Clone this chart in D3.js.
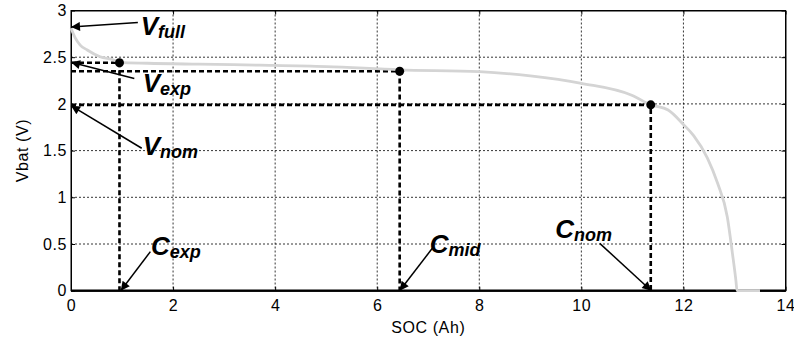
<!DOCTYPE html>
<html>
<head>
<meta charset="utf-8">
<script src="https://cdn.jsdelivr.net/npm/d3@7"></script>
<style>
  body { margin: 0; background: #fff; }
  svg { display: block; font-family: Arial, "Liberation Sans", sans-serif; }
</style>
</head>
<body>
<svg id="chart" width="794" height="345"></svg>
<script>
// discharge curve
const soc  = [0, 0.08, 0.18, 0.31, 0.57, 0.84, 0.95, 1.5, 2.5, 3.7, 5.0, 6.44, 8.0, 9.0, 10.0, 11.0, 11.36, 11.7, 12.0, 12.2, 12.47, 12.67, 12.86, 12.96, 13.03, 13.05, 13.5];
const vbat = [2.81, 2.71, 2.63, 2.58, 2.505, 2.47, 2.445, 2.435, 2.425, 2.415, 2.40, 2.365, 2.345, 2.30, 2.22, 2.09, 1.99, 1.935, 1.78, 1.66, 1.42, 1.15, 0.79, 0.40, 0.10, 0, 0];

// characteristic points (exp, mid, nom)
const pointSoc  = [0.95, 6.44, 11.36];
const pointVbat = [2.44, 2.35, 1.99];

const xTicks = [0, 2, 4, 6, 8, 10, 12, 14];
const yTicks = [0, 0.5, 1, 1.5, 2, 2.5, 3];

// labels: main letter, subscript, text anchor, arrow tail -> arrow head (data units)
const labels = [
  { main: 'V', sub: 'full', tx: 1.366, ty: 2.738, x1: 1.31, y1: 2.871, x2: 0.0, y2: 2.823 },
  { main: 'V', sub: 'exp',  tx: 1.405, ty: 2.124, x1: 1.24, y1: 2.272, x2: 0.0, y2: 2.445 },
  { main: 'V', sub: 'nom',  tx: 1.405, ty: 1.453, x1: 1.386, y1: 1.525, x2: 0.0, y2: 1.981 },
  { main: 'C', sub: 'exp',  tx: 1.569, ty: 0.385, x1: 1.555, y1: 0.418, x2: 0.975, y2: 0.0 },
  { main: 'C', sub: 'mid',  tx: 7.03,  ty: 0.40,  x1: 7.08, y1: 0.454, x2: 6.44, y2: 0.0 },
  { main: 'C', sub: 'nom',  tx: 9.49,  ty: 0.561, x1: 10.36, y1: 0.507, x2: 11.37, y2: 0.0 }
];

const margin = { top: 10.5, right: 8.5, bottom: 54.3, left: 71 };
const W = 794, H = 345;
const w = W - margin.left - margin.right;
const h = H - margin.top - margin.bottom;

const svg = d3.select('#chart');

svg.append('defs').append('marker')
  .attr('id', 'arrow')
  .attr('viewBox', '0 0 10 10')
  .attr('refX', 10).attr('refY', 5)
  .attr('markerWidth', 12).attr('markerHeight', 9)
  .attr('markerUnits', 'userSpaceOnUse')
  .attr('orient', 'auto')
  .append('path')
  .attr('d', 'M0,0L10,5L0,10z')
  .attr('fill', '#000');

const g = svg.append('g').attr('transform', `translate(${margin.left},${margin.top})`);

const x = d3.scaleLinear().domain([0, 14]).range([0, w]);
const y = d3.scaleLinear().domain([0, 3]).range([h, 0]);

// grid
g.append('g').selectAll('line').data(xTicks.slice(1, -1)).enter().append('line')
  .attr('x1', d => x(d)).attr('x2', d => x(d))
  .attr('y1', 0).attr('y2', h)
  .attr('stroke', '#000').attr('stroke-width', 0.8).attr('stroke-dasharray', '2,2');
g.append('g').selectAll('line').data(yTicks.slice(1, -1)).enter().append('line')
  .attr('y1', d => y(d)).attr('y2', d => y(d))
  .attr('x1', 0).attr('x2', w)
  .attr('stroke', '#000').attr('stroke-width', 0.8).attr('stroke-dasharray', '2,2');

// axes (MATLAB-style, ticks inside)
const xAxis = g.append('g').attr('transform', `translate(0,${h})`)
  .call(d3.axisBottom(x).tickValues(xTicks).tickSizeInner(-4).tickSizeOuter(0).tickPadding(9));
const yAxis = g.append('g')
  .call(d3.axisLeft(y).tickValues(yTicks).tickFormat(d3.format('')).tickSizeInner(-4).tickSizeOuter(0).tickPadding(4));
g.append('g').call(d3.axisTop(x).tickValues(xTicks).tickSizeInner(-4).tickSizeOuter(0).tickFormat(''));
g.append('g').attr('transform', `translate(${w},0)`)
  .call(d3.axisRight(y).tickValues(yTicks).tickSizeInner(-4).tickSizeOuter(0).tickFormat(''));

[xAxis, yAxis].forEach(a => a.selectAll('text')
  .style('font-size', '16px').style('font-family', 'Arial, "Liberation Sans", sans-serif')
  .style('letter-spacing', '0.6px').attr('fill', '#000'));
g.selectAll('.domain').attr('stroke', '#000');
g.selectAll('.tick line').attr('stroke', '#000');

// guides
const pts = pointSoc.map((s, i) => [s, pointVbat[i]]);
const guides = g.append('g');
pts.forEach(p => {
  guides.append('path')
    .attr('d', `M${x(0)},${y(p[1])}H${x(p[0])}V${y(0)}`)
    .attr('fill', 'none')
    .attr('stroke', '#000')
    .attr('stroke-width', 2.6)
    .attr('stroke-dasharray', '5,3');
});

// box
g.append('rect').attr('width', w).attr('height', h)
  .attr('fill', 'none').attr('stroke', '#000').attr('stroke-width', 1);
g.append('line').attr('x1', 0).attr('x2', w).attr('y1', h).attr('y2', h)
  .attr('stroke', '#000').attr('stroke-width', 2.2);

// curve
const line = d3.line().x(d => x(d[0])).y(d => y(d[1])).curve(d3.curveMonotoneX);
g.append('path')
  .datum(soc.map((s, i) => [s, vbat[i]]))
  .attr('d', line)
  .attr('fill', 'none')
  .attr('stroke', '#d4d4d4')
  .attr('stroke-width', 2.8);

g.append('g').selectAll('circle').data(pts).enter().append('circle')
  .attr('cx', d => x(d[0])).attr('cy', d => y(d[1])).attr('r', 4.5).attr('fill', '#000');

// annotations
labels.forEach(d => {
  g.append('line')
    .attr('x1', x(d.x1)).attr('y1', y(d.y1))
    .attr('x2', x(d.x2)).attr('y2', y(d.y2))
    .attr('stroke', '#000').attr('stroke-width', 1.5)
    .attr('marker-end', 'url(#arrow)');
  const t = g.append('text')
    .attr('x', x(d.tx)).attr('y', y(d.ty))
    .style('font-weight', 'bold').style('font-style', 'italic')
    .style('font-size', '26px').attr('fill', '#000');
  t.append('tspan').text(d.main);
  t.append('tspan').attr('dy', 3).style('font-size', '18px').text(d.sub);
});

// axis titles
svg.append('text')
  .attr('x', margin.left + w / 2).attr('y', 333)
  .attr('text-anchor', 'middle').style('font-size', '16px').style('letter-spacing', '0.6px')
  .text('SOC (Ah)');
svg.append('text')
  .attr('transform', `translate(28,${margin.top + h / 2}) rotate(-90)`)
  .attr('text-anchor', 'middle').style('font-size', '16px').style('letter-spacing', '0.6px')
  .text('Vbat (V)');
</script>
</body>
</html>
